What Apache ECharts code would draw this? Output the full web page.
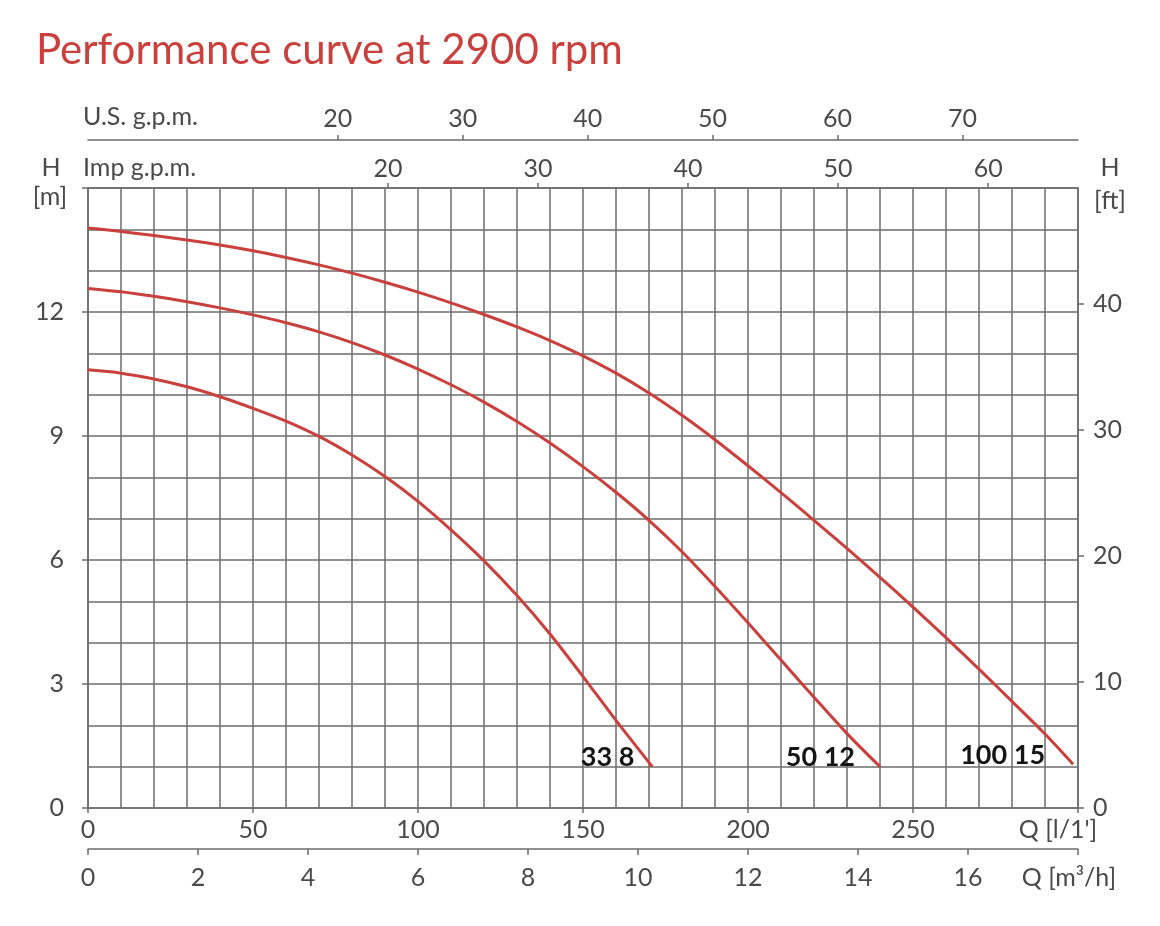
<!DOCTYPE html>
<html><head><meta charset="utf-8">
<script src="https://cdn.jsdelivr.net/npm/echarts@6/dist/echarts.min.js"></script>
<style>html,body{margin:0;padding:0;background:#fff}#c{width:1160px;height:926px}</style>
</head><body><div id="c"></div>
<script>
// ---- data (Q in l/min, H in m) ----
const q338 = [0,10,20,30,40,50,60,70,80,90,100,110,120,130,140,150,160,171];
const h338 = [10.6,10.52,10.38,10.19,9.95,9.67,9.36,8.99,8.54,8.02,7.42,6.73,5.98,5.14,4.21,3.18,2.12,1.0];
const q5012 = [0,10,20,30,40,50,60,70,80,90,100,110,120,130,140,150,160,170,180,190,200,210,220,230,240];
const h5012 = [12.57,12.49,12.38,12.25,12.1,11.93,11.74,11.52,11.26,10.96,10.62,10.24,9.82,9.35,8.83,8.26,7.64,6.96,6.2,5.36,4.48,3.58,2.68,1.8,1.0];
const q10015 = [0,10,20,30,40,50,60,70,80,90,100,110,120,130,140,150,160,170,180,190,200,210,220,230,240,250,260,270,280,290,298.5];
const h10015 = [14.03,13.95,13.85,13.74,13.62,13.48,13.32,13.14,12.94,12.72,12.48,12.22,11.94,11.64,11.31,10.94,10.52,10.04,9.5,8.91,8.28,7.63,6.96,6.28,5.58,4.86,4.12,3.36,2.58,1.79,1.06];
const seriesNames = ['33 8','50 12','100 15'];

// ---- tick labels ----
const usGpmTicks = [20,30,40,50,60,70];
const impGpmTicks = [20,30,40,50,60];
const headMLabels = [0,3,6,9,12];
const headMTicks = [0,3,6,9,12,15];
const headFtTicks = [0,10,20,30,40];
const qLpmMax = 300, qM3hMax = 18, hMax = 15;

// unit conversions
const LPM_PER_USGPM = 3.78541, LPM_PER_IMPGPM = 4.54609, FT_PER_M = 3.28084;

const FONT = 'Lato, "Open Sans", sans-serif';
const GRAY = '#4a4a4a', LINE = '#6c6c6c', RED = '#c9403d';

const lbl = (extra) => Object.assign({color: GRAY, fontSize: 25, fontFamily: FONT}, extra);
const aLine = {show: true, onZero: false, lineStyle: {color: LINE, width: 1.5}};
const tick = (len, extra) => Object.assign({show: true, length: len, lineStyle: {color: LINE, width: 1.5}}, extra);

function mkSeries(name, q, h, dist) {
  return {
    type: 'line', name, xAxisIndex: 0, yAxisIndex: 0, smooth: 0.3,
    symbol: 'circle', symbolSize: 0, showSymbol: true, silent: true,
    lineStyle: {color: RED, width: 3}, itemStyle: {color: RED},
    data: q.map((x, i) => i === q.length - 1
      ? {value: [x, h[i]], label: {show: true, formatter: name, position: 'left', distance: dist, offset: [0, -9],
          color: '#151515', fontWeight: 'bold', fontSize: 27, fontFamily: FONT}}
      : [x, h[i]])
  };
}

const chart = echarts.init(document.getElementById('c'), null, {renderer: 'canvas'});
chart.setOption({
  animation: false,
  backgroundColor: '#fff',
  title: {text: 'Performance curve at 2900 rpm', left: 31, top: 24,
    textStyle: {color: RED, fontSize: 42, fontWeight: 'normal', fontFamily: FONT}},
  grid: {left: 88, right: 82, top: 188, bottom: 118, containLabel: false},
  xAxis: [
    {type: 'value', position: 'bottom', min: 0, max: qLpmMax, interval: 50,
      axisLine: aLine, axisTick: tick(5), splitLine: {show: false},
      axisLabel: lbl({margin: 9, formatter: v => v === qLpmMax ? "{q|Q [l/1']}" : String(v),
        rich: {q: {padding: [0, 40, 0, 0], color: GRAY, fontSize: 25, fontFamily: FONT}}})},
    {type: 'value', position: 'bottom', offset: 41, min: 0, max: qM3hMax, interval: 2,
      axisLine: aLine, axisTick: tick(6), splitLine: {show: false},
      axisLabel: lbl({margin: 16, formatter: v => v === qM3hMax ? '{q|Q [m³/h]}' : String(v),
        rich: {q: {padding: [0, 18, 0, 0], color: GRAY, fontSize: 25, fontFamily: FONT}}})},
    {type: 'value', position: 'top', offset: 48, min: 0, max: qLpmMax / LPM_PER_USGPM,
      axisLine: aLine, axisTick: tick(5, {customValues: usGpmTicks}), splitLine: {show: false},
      axisLabel: lbl({margin: 9, customValues: usGpmTicks})},
    {type: 'value', position: 'top', offset: 0, min: 0, max: qLpmMax / LPM_PER_IMPGPM,
      axisLine: aLine, axisTick: tick(5, {customValues: impGpmTicks}), splitLine: {show: false},
      axisLabel: lbl({margin: 7, customValues: impGpmTicks})},
    {type: 'value', position: 'bottom', min: 0, max: qLpmMax, interval: 10,
      axisLine: {show: false}, axisTick: {show: false}, axisLabel: {show: false},
      splitLine: {show: true, lineStyle: {color: LINE, width: 1.5}}}
  ],
  yAxis: [
    {type: 'value', position: 'left', min: 0, max: hMax,
      axisLine: aLine, axisTick: tick(6, {customValues: headMTicks}), splitLine: {show: false},
      axisLabel: lbl({margin: 24, customValues: headMLabels})},
    {type: 'value', position: 'right', min: 0, max: hMax * FT_PER_M,
      axisLine: aLine, axisTick: tick(6, {customValues: headFtTicks}), splitLine: {show: false},
      axisLabel: lbl({margin: 15, customValues: headFtTicks})},
    {type: 'value', position: 'left', min: 0, max: hMax, interval: 1,
      axisLine: {show: false}, axisTick: {show: false}, axisLabel: {show: false},
      splitLine: {show: true, lineStyle: {color: LINE, width: 1.5}}}
  ],
  graphic: [
    {type: 'text', x: 83, y: 117, style: {text: 'U.S. g.p.m.', fill: GRAY, fontSize: 25, fontFamily: FONT, align: 'left', verticalAlign: 'middle'}},
    {type: 'text', x: 83, y: 168, style: {text: 'Imp g.p.m.', fill: GRAY, fontSize: 25, fontFamily: FONT, align: 'left', verticalAlign: 'middle'}},
    {type: 'text', x: 51, y: 168, style: {text: 'H', fill: GRAY, fontSize: 25, fontFamily: FONT, align: 'center', verticalAlign: 'middle'}},
    {type: 'text', x: 50, y: 197, style: {text: '[m]', fill: GRAY, fontSize: 25, fontFamily: FONT, align: 'center', verticalAlign: 'middle'}},
    {type: 'text', x: 1110, y: 168, style: {text: 'H', fill: GRAY, fontSize: 25, fontFamily: FONT, align: 'center', verticalAlign: 'middle'}},
    {type: 'text', x: 1110, y: 201, style: {text: '[ft]', fill: GRAY, fontSize: 25, fontFamily: FONT, align: 'center', verticalAlign: 'middle'}}
  ],
  series: [
    mkSeries(seriesNames[0], q338, h338, 18),
    mkSeries(seriesNames[1], q5012, h5012, 25),
    mkSeries(seriesNames[2], q10015, h10015, 28)
  ]
});
</script></body></html>
